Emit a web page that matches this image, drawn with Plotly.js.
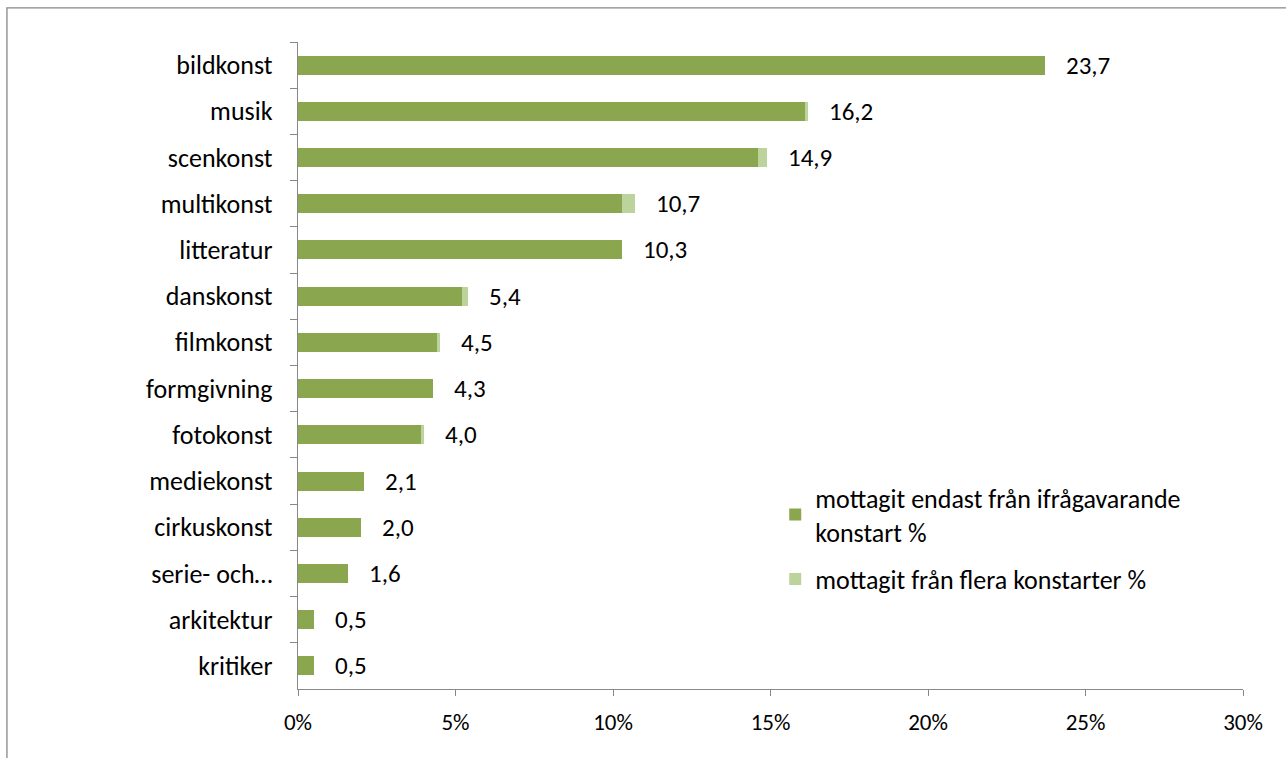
<!DOCTYPE html>
<html><head><meta charset="utf-8">
<script src="https://cdn.plot.ly/plotly-3.0.1.min.js"></script>
<style>html,body{margin:0;padding:0;background:#fff}#c{width:1286px;height:758px}</style>
</head><body><div id="c"></div>
<script>
var categories = ["bildkonst","musik","scenkonst","multikonst","litteratur","danskonst","filmkonst","formgivning","fotokonst","mediekonst","cirkuskonst","serie- och…","arkitektur","kritiker"];
var onlyThis = [23.7,16.1,14.6,10.3,10.3,5.2,4.4,4.3,3.9,2.1,2.0,1.6,0.5,0.5];
var several = [0,0.1,0.3,0.4,0,0.2,0.1,0,0.1,0,0,0,0,0];
var totals = [23.7,16.2,14.9,10.7,10.3,5.4,4.5,4.3,4.0,2.1,2.0,1.6,0.5,0.5];
var seriesNames = ["mottagit endast från ifrågavarande<br>konstart %","mottagit från flera konstarter %"];
var xTicks = [0,5,10,15,20,25,30];

var FONT = "Carlito, Calibri, 'Open Sans', sans-serif";
var traces = [
  {type:"bar", orientation:"h", y:categories, x:onlyThis, name:seriesNames[0],
   marker:{color:"#8aa64f"}, legend:"legend", hoverinfo:"x+y"},
  {type:"bar", orientation:"h", y:categories, x:several, name:seriesNames[1],
   marker:{color:"#bcd39c"}, legend:"legend2", hoverinfo:"x+y"}
];
var annotations = categories.map(function(c,i){
  return {x:totals[i], y:c, xref:"x", yref:"y", text:totals[i].toFixed(1).replace(".",","),
    showarrow:false, xanchor:"left", xshift:19, font:{family:FONT, size:25, color:"#000"}};
});
var legendBase = {xanchor:"left", yanchor:"top", traceorder:"normal",
  font:{family:FONT, size:26, color:"#000"}, bgcolor:"rgba(0,0,0,0)", itemwidth:30};
var layout = {
  width:1286, height:758,
  margin:{l:298, r:43, t:42, b:69},
  paper_bgcolor:"#fff", plot_bgcolor:"#fff",
  barmode:"stack", bargap:0.59,
  font:{family:FONT, color:"#000"},
  showlegend:true,
  legend:Object.assign({x:0.505, y:0.332}, legendBase),
  legend2:Object.assign({x:0.505, y:0.206}, legendBase),
  xaxis:{range:[0,30], tickvals:xTicks, ticktext:xTicks.map(function(v){return v+"%";}),
    showgrid:false, zeroline:false, showline:true, linecolor:"#888", linewidth:1.3,
    ticks:"outside", ticklen:6, tickcolor:"#888", ticklabelstandoff:6,
    tickfont:{family:FONT, size:23, color:"#000"}},
  yaxis:{type:"category", autorange:"reversed", showgrid:false, zeroline:false,
    showline:true, linecolor:"#888", linewidth:1.3, ticks:"outside", ticklen:7,
    tickcolor:"#888", tickson:"boundaries", ticklabelstandoff:19,
    tickfont:{family:FONT, size:26, color:"#000"}},
  annotations:annotations,
  shapes:[{type:"rect", xref:"paper", yref:"paper", x0:-0.308, x1:1.1, y0:1.0526, y1:-0.2,
    line:{color:"#888", width:1.3}, fillcolor:"rgba(0,0,0,0)", layer:"below"}]
};
Plotly.newPlot("c", traces, layout, {displayModeBar:false, staticPlot:true});
</script></body></html>
